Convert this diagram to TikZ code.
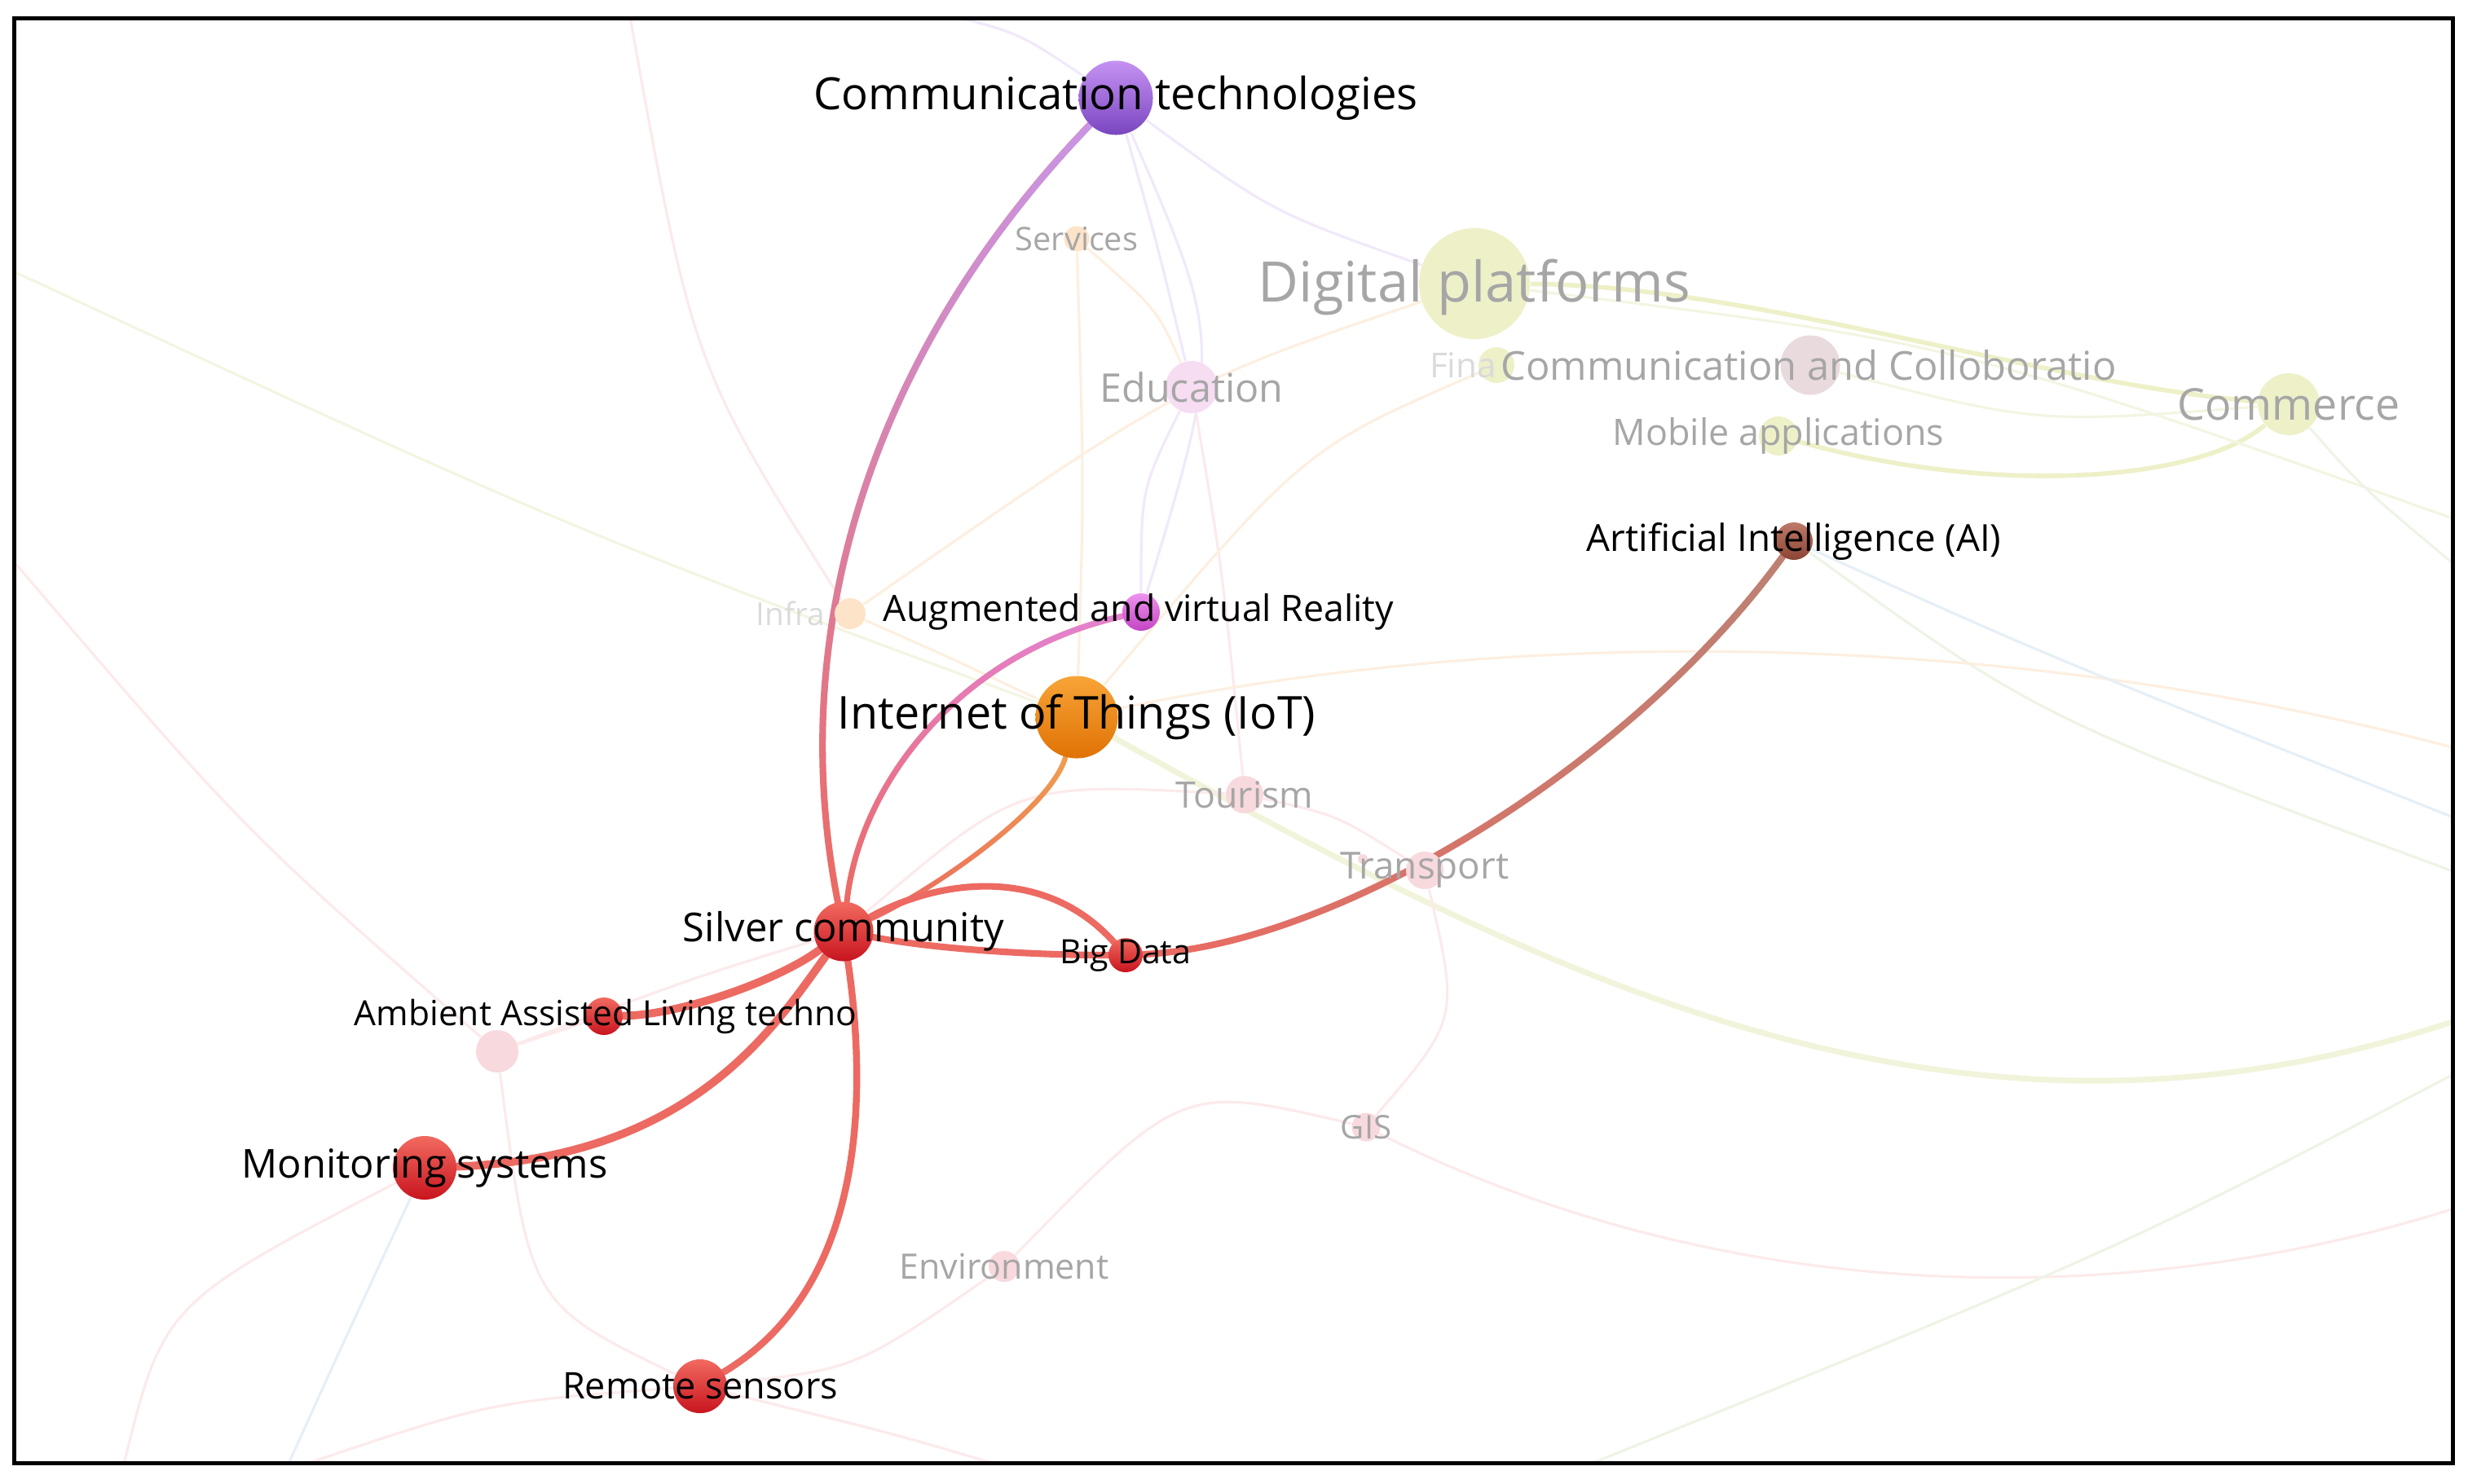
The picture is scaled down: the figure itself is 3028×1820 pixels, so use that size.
\documentclass[tikz,border=0pt]{standalone}
\usepackage{fontspec}
\setmainfont{Open Sans}
\usetikzlibrary{backgrounds,fadings}

% node colours (light top, dark bottom)
\definecolor{redhi}{HTML}{F26A60}
\definecolor{redlo}{HTML}{C8141E}
\definecolor{purhi}{HTML}{C592F2}
\definecolor{purlo}{HTML}{7A46C0}
\definecolor{orghi}{HTML}{F8A438}
\definecolor{orglo}{HTML}{E07204}
\definecolor{maghi}{HTML}{EE94EE}
\definecolor{maglo}{HTML}{C444C4}
\definecolor{brnhi}{HTML}{BE7A6A}
\definecolor{brnlo}{HTML}{8C4434}
% faded nodes
\definecolor{dimgreen}{HTML}{EEF0C8}
\definecolor{dimpink}{HTML}{F8D9DD}
\definecolor{dimrose}{HTML}{E9DADD}
\definecolor{dimlilac}{HTML}{F6DDF2}
\definecolor{dimpeach}{HTML}{FDE3C8}
\definecolor{dimtext}{HTML}{A6A6A6}
\definecolor{ghosttext}{HTML}{DADADA}
% links
\definecolor{linkred}{HTML}{EC6A62}
\definecolor{linkpur}{HTML}{C996E6}
\definecolor{linkmag}{HTML}{E482D2}
\definecolor{linkorg}{HTML}{F0A04C}
\definecolor{linkbrn}{HTML}{BC8274}
\definecolor{fgreen}{HTML}{F3F5E2}
\definecolor{fpink}{HTML}{FCEAEB}
\definecolor{flilac}{HTML}{F1E9FA}
\definecolor{fpeach}{HTML}{FDEFE0}
\definecolor{fmint}{HTML}{EDF4E6}
\definecolor{fblue}{HTML}{E6EFF6}

\tikzset{
  ball/.style 2 args={circle, inner sep=0pt, minimum size=#1, top color=#2hi, bottom color=#2lo},
  dimball/.style 2 args={circle, inner sep=0pt, minimum size=#1, fill=#2},
  lbl/.style={font=\fontsize{#1}{#1}\selectfont, text=black, inner sep=0pt},
  dimlbl/.style={font=\fontsize{#1}{#1}\selectfont, text=dimtext, inner sep=0pt},
  link/.style={line width=#1, line cap=round},
  faint/.style={line width=0.9pt}
}

\begin{document}
\begin{tikzpicture}[x=0.01cm, y=-0.01cm]
  \useasboundingbox (0,0) rectangle (3028,1820);

  % faded terms
  \node[dimball={0.31cm}{dimpeach}] (serv) at (1321,293) {};
  \node[dimball={1.36cm}{dimgreen}] (dp) at (1809,348) {};
  \node[dimball={0.64cm}{dimlilac}] (edu) at (1462,475) {};
  \node[dimball={0.44cm}{dimgreen}] (fin) at (1836,448) {};
  \node[dimball={0.73cm}{dimrose}] (cac) at (2221,448) {};
  \node[dimball={0.48cm}{dimgreen}] (mob) at (2182,535) {};
  \node[dimball={0.76cm}{dimgreen}] (com) at (2808,496) {};
  \node[dimball={0.38cm}{dimpeach}] (infra) at (1043,753) {};
  \node[dimball={0.46cm}{dimpink}] (tour) at (1527,975) {};
  \node[dimball={0.46cm}{dimpink}] (trans) at (1748,1068) {};
  \node[dimball={0.12cm}{dimpink}] (transdot) at (1672,1054) {};
  \node[dimball={0.35cm}{dimpink}] (gis) at (1676,1383) {};
  \node[dimball={0.38cm}{dimpink}] (env) at (1232,1554) {};
  \node[dimball={0.52cm}{dimpink}] (anon) at (610,1290) {};

  % highlighted terms
  \node[ball={0.91cm}{pur}] (ct) at (1369,120) {};
  \node[ball={0.46cm}{brn}] (ai) at (2201,664) {};
  \node[ball={0.46cm}{mag}] (ar) at (1400,751) {};
  \node[ball={1.01cm}{org}] (iot) at (1321,880) {};
  \node[ball={0.73cm}{red}] (sc) at (1035,1143) {};
  \node[ball={0.42cm}{red}] (bd) at (1381,1172) {};
  \node[ball={0.46cm}{red}] (aal) at (741,1247) {};
  \node[ball={0.78cm}{red}] (mon) at (521,1433) {};
  \node[ball={0.66cm}{red}] (rs) at (859,1701) {};

  % free ends of links leaving the view
  \coordinate (eR1) at (3020,1250);
  \coordinate (eR2) at (3020,640);
  \coordinate (eR3) at (3020,700);
  \coordinate (eR4) at (3020,1480);
  \coordinate (eR5) at (3020,1073);
  \coordinate (eR6) at (3020,1313);
  \coordinate (eR7) at (3020,920);
  \coordinate (eR8) at (3020,1007);
  \coordinate (eL1) at (10,330);
  \coordinate (eL2) at (10,681);
  \coordinate (eT1) at (772,15);
  \coordinate (eT2) at (1150,15);
  \coordinate (eB1) at (150,1805);
  \coordinate (eB2) at (350,1805);
  \coordinate (eB3) at (1250,1805);
  \coordinate (eB4) at (1930,1805);

  \begin{scope}[on background layer]
    \clip (17.5,22.5) rectangle (3009.5,1795.5);
    % faint links
    \draw[line width=2pt, fgreen!70!dimgreen] (iot) .. controls (1900,1200) and (2400,1460) .. (eR1);
    \draw[line width=1.6pt, dimgreen] (dp) .. controls (2150,350) and (2500,470) .. (com);
    \draw[line width=1.6pt, dimgreen] (mob) .. controls (2450,610) and (2700,590) .. (com);
    \draw[faint, fgreen] (cac) .. controls (2500,520) .. (com);
    \draw[faint, fgreen] (dp) .. controls (2400,420) .. (eR2);
    \draw[faint, fmint] (com) .. controls (2900,600) .. (eR3);
    \draw[faint, fgreen] (eL1) .. controls (700,650) .. (iot);
    \draw[faint, fpeach] (dp) .. controls (1450,470) .. (infra);
    \draw[faint, fpink] (sc) .. controls (1250,960) .. (tour);
    \draw[faint, fpink] (tour) .. controls (1640,1000) .. (trans);
    \draw[faint, fpink] (trans) .. controls (1790,1250) .. (gis);
    \draw[faint, fpink] (gis) .. controls (1450,1330) .. (env);
    \draw[faint, fpink] (gis) .. controls (2150,1620) and (2650,1600) .. (eR4);
    \draw[faint, fpink] (env) .. controls (1050,1680) .. (rs);
    \draw[faint, fpink] (anon) .. controls (850,1200) .. (sc);
    \draw[faint, fpink] (anon) .. controls (650,1600) .. (rs);
    \draw[faint, fpink] (aal) -- (anon);
    \draw[faint, fpink] (eT1) .. controls (850,450) .. (infra);
    \draw[faint, fpink] (eL2) .. controls (300,1020) .. (anon);
    \draw[faint, fpink] (mon) .. controls (200,1600) .. (eB1);
    \draw[faint, fpink] (rs) .. controls (600,1720) .. (eB2);
    \draw[faint, fpink] (rs) .. controls (1100,1760) .. (eB3);
    \draw[faint, fpink] (tour) .. controls (1500,700) .. (edu);
    \draw[faint, flilac] (edu) .. controls (1400,600) .. (ar);
    \draw[faint, flilac] (ct) .. controls (1420,300) .. (edu);
    \draw[faint, flilac] (ct) .. controls (1560,260) .. (dp);
    \draw[faint, flilac] (ct) .. controls (1250,40) .. (eT2);
    \draw[faint, flilac] (ct) .. controls (1500,420) .. (ar);
    \draw[faint, fpeach] (serv) .. controls (1330,600) .. (iot);
    \draw[faint, fpeach] (serv) .. controls (1420,380) .. (edu);
    \draw[faint, fpeach] (infra) .. controls (1150,800) .. (iot);
    \draw[faint, fpeach] (iot) .. controls (1600,550) .. (fin);
    \draw[faint, fmint] (ai) .. controls (2500,880) .. (eR5);
    \draw[faint, fmint] (eB4) .. controls (2600,1533) .. (eR6);
    \draw[faint, fpeach] (iot) .. controls (1900,760) and (2500,780) .. (eR7);
    \draw[faint, fblue] (ai) .. controls (2500,800) .. (eR8);
    \draw[faint, fblue] (mon) .. controls (420,1650) .. (eB2);

    % strong links
    \draw[link=2.3pt, linkred] (sc) .. controls (960,760) and (1080,420) .. (ct);
    \draw[link=2.3pt, linkpur, path fading=south] (sc) .. controls (960,760) and (1080,420) .. (ct);
    \draw[link=2pt, linkred] (sc) .. controls (1055,960) and (1180,800) .. (ar);
    \draw[link=2pt, linkmag, path fading=south] (sc) .. controls (1055,960) and (1180,800) .. (ar);
    \draw[link=1.7pt, linkred] (sc) .. controls (1150,1090) and (1290,990) .. (iot);
    \draw[link=1.7pt, linkorg, path fading=south] (sc) .. controls (1150,1090) and (1290,990) .. (iot);
    \draw[link=2.3pt, linkred] (sc) .. controls (1150,1165) and (1270,1172) .. (bd);
    \draw[link=2.3pt, linkred] (sc) .. controls (1150,1080) and (1280,1060) .. (bd);
    \draw[link=2.3pt, linkred] (bd) .. controls (1640,1160) and (2000,940) .. (ai);
    \draw[link=2.3pt, linkbrn, path fading=west] (bd) .. controls (1640,1160) and (2000,940) .. (ai);
    \draw[link=2.8pt, linkred] (sc) .. controls (960,1200) and (840,1245) .. (aal);
    \draw[link=2.8pt, linkred] (sc) .. controls (950,1260) and (850,1420) .. (mon);
    \draw[link=2.4pt, linkred] (sc) .. controls (1065,1350) and (1060,1580) .. (rs);
  \end{scope}

  % labels
  \node[dimlbl=11.3] (serv-l) at (serv) {Services};
  \node[dimlbl=19.5] (dp-l) at (1809,352) {Digital platforms};
  \node[dimlbl=13.8] (edu-l) at (edu) {Education};
  \node[font=\fontsize{12}{12}\selectfont, text=ghosttext, inner sep=0pt] (fin-l) at (1795,448) {Fina};
  \node[dimlbl=13.9] (cac-l) at (2219,448) {Communication and Colloboratio};
  \node[dimlbl=12.75] (mob-l) at (mob) {Mobile applications};
  \node[dimlbl=15.3] (com-l) at (com) {Commerce};
  \node[font=\fontsize{11}{11}\selectfont, text=ghosttext, inner sep=0pt] (infra-l) at (970,753) {Infra};
  \node[dimlbl=12.7] (tour-l) at (tour) {Tourism};
  \node[dimlbl=13] (trans-l) at (trans) {Transport};
  \node[dimlbl=11.4] (gis-l) at (gis) {GIS};
  \node[dimlbl=12.2] (env-l) at (env) {Environment};
  \node[lbl=15.5] (ct-l) at (ct) {Communication technologies};
  \node[lbl=13] (ai-l) at (ai) {Artificial Intelligence (AI)};
  \node[lbl=12.7] (ar-l) at (1397,751) {Augmented and virtual Reality};
  \node[lbl=15.8] (iot-l) at (iot) {Internet of Things (IoT)};
  \node[lbl=13.9] (sc-l) at (sc) {Silver community};
  \node[lbl=11.7] (bd-l) at (bd) {Big Data};
  \node[lbl=12.1] (aal-l) at (743,1247) {Ambient Assisted Living techno};
  \node[lbl=13.9] (mon-l) at (mon) {Monitoring systems};
  \node[lbl=12.8] (rs-l) at (rs) {Remote sensors};

  % frame
  \draw[line width=1.45pt] (17.5,22.5) rectangle (3009.5,1795.5);
\end{tikzpicture}
\end{document}
